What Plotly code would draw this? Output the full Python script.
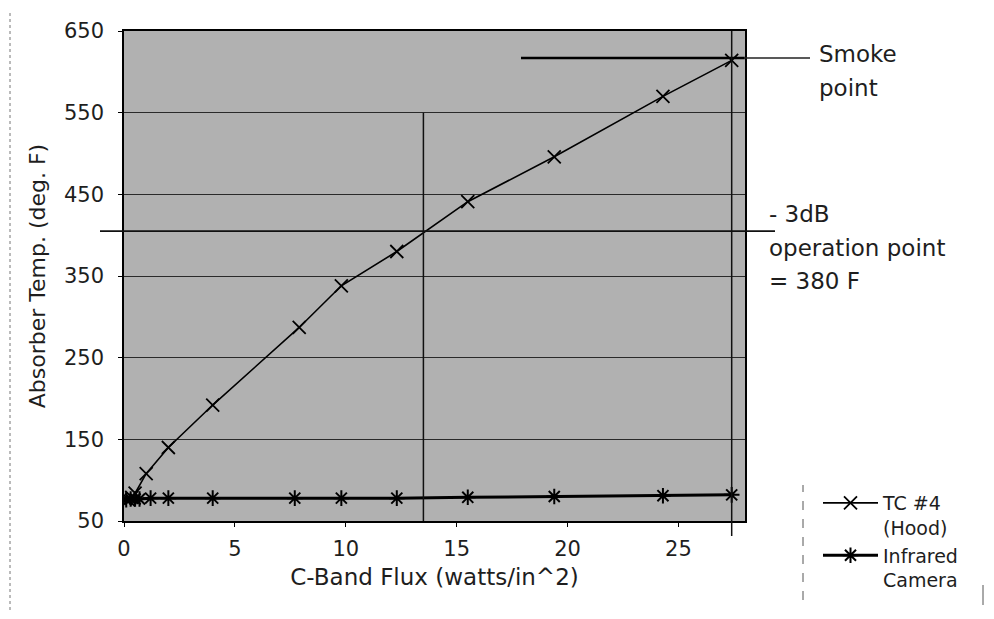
import plotly.graph_objects as go

# ---- data ----
tc4_flux = [0.2, 0.35, 0.5, 1.0, 2.0, 4.0, 7.9, 9.8, 12.3, 15.5, 19.4, 24.3, 27.4]
tc4_temp = [76, 79, 84, 108, 140, 192, 287, 338, 380, 441, 496, 570, 614]

ir_flux = [0.1, 0.3, 0.5, 0.7, 1.2, 2.0, 4.0, 7.7, 9.8, 12.3, 15.5, 19.4, 24.3, 27.4]
ir_temp = [76, 77, 77, 77, 78, 78, 78, 78, 78, 78, 79, 80, 81, 82]

x_ticks = [0, 5, 10, 15, 20, 25]
y_ticks = [50, 150, 250, 350, 450, 550, 650]

op_flux = 13.5      # -3dB operation point vertical marker
op_temp = 405       # -3dB horizontal line
smoke_temp = 617    # smoke point line
smoke_x0 = 17.9
last_flux = 27.4

# ---- layout geometry (page pixels; body margin of 8px around the figure) ----
BODY = 8
WIDTH, HEIGHT = 994 - 2 * BODY, 619 - 2 * BODY
PL, PR, PT, PB = 124, 745, 31, 521
PW, PH = PR - PL, PB - PT


def pxx(xp):
    return (xp - PL) / PW


def pxy(yp):
    return (PB - yp) / PH


FONT = "DejaVu Sans, Verdana, sans-serif"
TXT = "#1e1e1e"

fig = go.Figure()

fig.add_trace(go.Scatter(
    x=tc4_flux, y=tc4_temp, mode="lines+markers",
    name="TC #4<br>(Hood)",
    line=dict(color="black", width=1.6),
    marker=dict(symbol="x-thin-open", size=13, color="black",
                line=dict(color="black", width=1.8)),
))
fig.add_trace(go.Scatter(
    x=ir_flux, y=ir_temp, mode="lines+markers",
    name="Infrared<br>Camera",
    line=dict(color="black", width=3),
    marker=dict(symbol="asterisk-open", size=13, color="black",
                line=dict(color="black", width=2)),
))

shapes = [
    # smoke point line (extends outside plot to the right)
    dict(type="line", xref="x", yref="y", x0=smoke_x0, x1=27.99,
         y0=smoke_temp, y1=smoke_temp, line=dict(color="black", width=2.5)),
    dict(type="line", xref="paper", yref="y", x0=1.0, x1=pxx(810),
         y0=smoke_temp, y1=smoke_temp, line=dict(color="#222", width=1.5)),
    # -3dB line across the whole plot and beyond
    dict(type="line", xref="paper", yref="y", x0=pxx(100), x1=pxx(775),
         y0=op_temp, y1=op_temp, line=dict(color="#111", width=1.8)),
    # vertical line at operation point
    dict(type="line", xref="x", yref="y", x0=op_flux, x1=op_flux,
         y0=50, y1=550, line=dict(color="#111", width=1.5)),
    # vertical line at last data point (extends below axis)
    dict(type="line", xref="x", yref="paper", x0=last_flux, x1=last_flux,
         y0=pxy(536), y1=1.0, line=dict(color="#111", width=1.5)),
    # legend dashed left border
    dict(type="line", xref="paper", yref="paper", x0=pxx(803), x1=pxx(803),
         y0=pxy(600), y1=pxy(485), line=dict(color="#555", width=1, dash="dash")),
    dict(type="line", xref="paper", yref="paper", x0=pxx(983), x1=pxx(983),
         y0=pxy(605), y1=pxy(585), line=dict(color="#555", width=1)),
    # scan artefact dotted line at left edge
    dict(type="line", xref="paper", yref="paper", x0=pxx(10), x1=pxx(10),
         y0=pxy(610), y1=pxy(10), line=dict(color="#777", width=1, dash="dot")),
]

annots = [
    ("Smoke", 817, 54),
    ("point", 817, 88),
    ("- 3dB", 767, 214),
    ("operation point", 767, 248),
    ("= 380 F", 767, 281),
]
annotations = [
    dict(text=t, xref="paper", yref="paper", x=pxx(xp), y=pxy(yp),
         xanchor="left", yanchor="middle", showarrow=False,
         font=dict(family=FONT, size=23, color=TXT))
    for t, xp, yp in annots
]

fig.update_layout(
    width=WIDTH, height=HEIGHT,
    margin=dict(l=PL - BODY, r=WIDTH - (PR - BODY), t=PT - BODY,
                b=HEIGHT - (PB - BODY), pad=0),
    paper_bgcolor="white",
    plot_bgcolor="#b1b1b1",
    font=dict(family=FONT, size=20, color=TXT),
    shapes=shapes,
    annotations=annotations,
    showlegend=True,
    legend=dict(x=pxx(818), y=pxy(484), xanchor="left", yanchor="top",
                bgcolor="rgba(0,0,0,0)", valign="top",
                font=dict(family=FONT, size=19, color=TXT),
                itemwidth=55, tracegroupgap=0),
)

fig.update_xaxes(
    range=[0, 28], tickvals=x_ticks, ticktext=[str(v) for v in x_ticks],
    showgrid=False, zeroline=False,
    showline=True, mirror=True, linecolor="black", linewidth=1.5,
    ticks="outside", ticklen=4, tickcolor="black",
    ticklabelstandoff=4,
    tickfont=dict(family=FONT, size=21, color=TXT),
    title=dict(text="C-Band Flux (watts/in^2)", standoff=9,
               font=dict(family=FONT, size=23, color=TXT)),
)
fig.update_yaxes(
    range=[50, 650], tickvals=y_ticks, ticktext=[str(v) for v in y_ticks],
    showgrid=True, gridcolor="#2a2a2a", gridwidth=1, zeroline=False,
    showline=True, mirror=True, linecolor="black", linewidth=1.5,
    ticks="outside", ticklen=4, tickcolor="black",
    ticklabelstandoff=10,
    tickfont=dict(family=FONT, size=21, color=TXT),
    title=dict(text="Absorber Temp. (deg. F)", standoff=12,
               font=dict(family=FONT, size=22, color=TXT)),
)

fig.write_html("out.html")
